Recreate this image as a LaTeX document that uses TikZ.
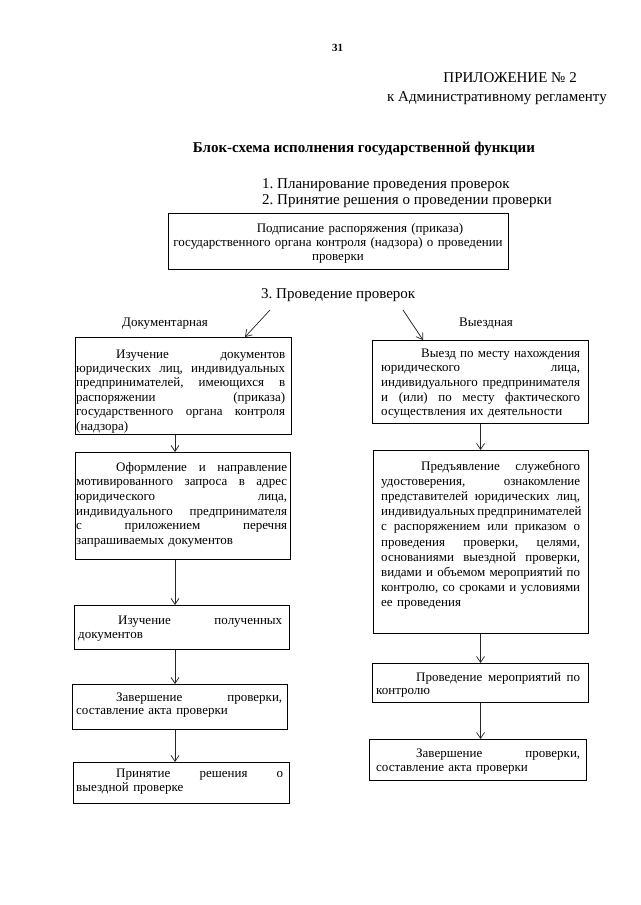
\documentclass[tikz,border=0pt]{standalone}
\usepackage{fontspec}
\setmainfont{Liberation Serif}
\usetikzlibrary{arrows.meta}
\newcommand{\jl}[1]{\makebox[\hsize][s]{\spaceskip=0pt\xspaceskip=0pt #1}\\}
\newcommand{\ind}{\hspace*{40pt}}
\frenchspacing
\begin{document}
\begin{tikzpicture}[x=1pt,y=-1pt,
  box/.style={draw=black, line width=1.1pt, anchor=north west, inner sep=0pt},
  txt/.style={anchor=base west, inner sep=0pt, align=left},
  head/.style={inner sep=0pt, font=\fontsize{15}{17}\selectfont},
  conn/.style={line width=0.7pt, draw=black!85, -{Straight Barb[length=6pt,width=8pt,line width=0.7pt]}}]
\fill[white] (0,0) rectangle (640,905);
\useasboundingbox (0,0) rectangle (640,905);

% header
\node[inner sep=0pt, anchor=base west, font=\fontsize{11}{12}\selectfont\bfseries] (pg) at (332,51) {31};
\node[head, anchor=base east] (app) at (577,82) {ПРИЛОЖЕНИЕ № 2};
\node[head, anchor=base east] (reg) at (607,101) {к Административному регламенту};
\node[head, anchor=base, font=\fontsize{15}{17}\selectfont\bfseries] (title) at (364,152) {Блок-схема исполнения государственной функции};
\node[head, anchor=base west] (h1) at (262,188) {1. Планирование проведения проверок};
\node[head, anchor=base west] (h2) at (262,204) {2. Принятие решения о проведении проверки};

% top box
\node[box, minimum width=340pt, minimum height=56pt] (T) at (168,213) {};
\node[inner sep=0pt, anchor=base, text width=330pt, align=center, font=\fontsize{13}{14}\selectfont] (Tt) at (338,232)
  {\hspace*{44pt}Подписание распоряжения (приказа)\\государственного органа контроля (надзора) о проведении\\проверки};

\node[head, anchor=base west] (h3) at (261,298) {3. Проведение проверок};
\node[inner sep=0pt, anchor=base west, font=\fontsize{13}{14}\selectfont] (doc) at (122,326) {Документарная};
\node[inner sep=0pt, anchor=base west, font=\fontsize{13}{14}\selectfont] (vyez) at (459,326) {Выездная};

% left column
\coordinate (axL) at (175,0);
\node[box, minimum width=216pt, minimum height=97pt] (L1) at (75,337) {};
\node[txt, text width=209pt, font=\fontsize{13}{14.4}\selectfont] (L1t) at (76,358)
  {\jl{\ind Изучение документов}\jl{юридических лиц, индивидуальных}\jl{предпринимателей, имеющихся в}\jl{распоряжении (приказа)}\jl{государственного органа контроля}(надзора)};

\node[box, minimum width=215pt, minimum height=107pt] (L2) at (75,452) {};
\node[txt, text width=211pt, font=\fontsize{13}{14.7}\selectfont] (L2t) at (76,471)
  {\jl{\ind Оформление и направление}\jl{мотивированного запроса в адрес}\jl{юридического лица,}\jl{индивидуального предпринимателя}\jl{с приложением перечня}запрашиваемых документов};

\node[box, minimum width=215pt, minimum height=44pt] (L3) at (74,605) {};
\node[txt, text width=204pt, font=\fontsize{13}{14}\selectfont] (L3t) at (78,624)
  {\jl{\ind Изучение полученных}документов};

\node[box, minimum width=215pt, minimum height=45pt] (L4) at (72,684) {};
\node[txt, text width=206pt, font=\fontsize{13}{13.5}\selectfont] (L4t) at (76,701)
  {\jl{\ind Завершение проверки,}составление акта проверки};

\node[box, minimum width=216pt, minimum height=41pt] (L5) at (73,762) {};
\node[txt, text width=207pt, font=\fontsize{13}{14}\selectfont] (L5t) at (76,777)
  {\jl{\ind Принятие решения о}выездной проверке};

% right column
\node[box, minimum width=216pt, minimum height=83pt] (R1) at (372,340) {};
\node[txt, text width=199pt, font=\fontsize{13}{14.7}\selectfont] (R1t) at (381,357)
  {\jl{\ind Выезд по месту нахождения}\jl{юридического лица,}\jl{индивидуального предпринимателя}\jl{и (или) по месту фактического}осуществления их деятельности};

\node[box, minimum width=215pt, minimum height=183pt] (R2) at (373,450) {};
\node[txt, text width=199pt, font=\fontsize{13}{15.2}\selectfont] (R2t) at (381,470)
  {\jl{\ind Предъявление служебного}\jl{удостоверения, ознакомление}\jl{представителей юридических лиц,}\jl{индивидуальных предпринимателей}\jl{с распоряжением или приказом о}\jl{проведения проверки, целями,}\jl{основаниями выездной проверки,}\jl{видами и объемом мероприятий по}\jl{контролю, со сроками и условиями}ее проведения};

\node[box, minimum width=216pt, minimum height=39pt] (R3) at (372,663) {};
\node[txt, text width=204pt, font=\fontsize{13}{13.5}\selectfont] (R3t) at (376,681)
  {\jl{\ind Проведение мероприятий по}контролю};

\node[box, minimum width=217pt, minimum height=41pt] (R4) at (369,739) {};
\node[txt, text width=204pt, font=\fontsize{13}{14}\selectfont] (R4t) at (376,757)
  {\jl{\ind Завершение проверки,}составление акта проверки};

% connectors
\coordinate (s1) at (270,310);
\coordinate (s2) at (403,310);
\draw[conn] (s1) -- ([xshift=170pt]L1.north west);
\draw[conn] (s2) -- ([xshift=51pt]R1.north west);
\draw[conn] (L1.south -| axL) -- (L2.north -| axL);
\draw[conn] (L2.south -| axL) -- (L3.north -| axL);
\draw[conn] (L3.south -| axL) -- (L4.north -| axL);
\draw[conn] (L4.south -| axL) -- (L5.north -| axL);
\draw[conn] (R1.south) -- (R2.north -| R1.south);
\draw[conn] (R2.south -| R1.south) -- (R3.north -| R1.south);
\draw[conn] (R3.south -| R1.south) -- (R4.north -| R1.south);
\end{tikzpicture}
\end{document}
